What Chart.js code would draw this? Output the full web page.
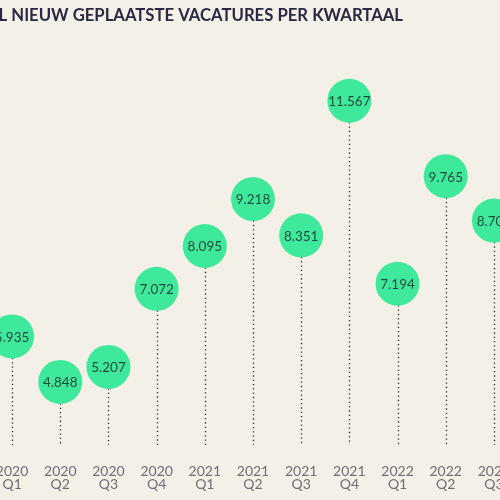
<!DOCTYPE html>
<html lang="nl">
<head>
<meta charset="utf-8">
<title>Nieuw geplaatste vacatures per kwartaal</title>
<script src="https://cdn.jsdelivr.net/npm/chart.js@4/dist/chart.umd.min.js"></script>
<style>
    html, body { margin: 0; padding: 0; width: 500px; height: 500px; overflow: hidden; background: #f3f0e7; }
    #wrap { position: absolute; left: -12px; top: 0; width: 530px; height: 500px; }
</style>
</head>
<body>
<div id="wrap"><canvas id="vacatureChart"></canvas></div>
<script>
// Quarters shown on the x axis (year on first line, quarter on second)
const years = ['2020', '2020', '2020', '2020', '2021', '2021', '2021', '2021', '2022', '2022', '2022'];
const quarters = ['Q1', 'Q2', 'Q3', 'Q4', 'Q1', 'Q2', 'Q3', 'Q4', 'Q1', 'Q2', 'Q3'];
// Number of new vacancies (in thousands, shown with Dutch thousand separator)
const vacancies = [5.935, 4.848, 5.207, 7.072, 8.095, 9.218, 8.351, 11.567, 7.194, 9.765, 8.704];
const chartTitle = 'AANTAL NIEUW GEPLAATSTE VACATURES PER KWARTAAL';

document.addEventListener('DOMContentLoaded', function () {
    const labels = years.map((y, i) => [y, quarters[i]]);

    // Dotted stems from each bubble down to the bottom of the chart area
    const stems = {
        id: 'stems',
        beforeDatasetsDraw(chart) {
            const ctx = chart.ctx;
            const bottom = chart.chartArea.bottom;
            ctx.save();
            ctx.strokeStyle = '#2b2b2b';
            ctx.lineWidth = 1.3;
            ctx.setLineDash([1.3, 3]);
            chart.getDatasetMeta(0).data.forEach(pt => {
                ctx.beginPath();
                ctx.moveTo(Math.round(pt.x) + 0.5, pt.y);
                ctx.lineTo(Math.round(pt.x) + 0.5, bottom);
                ctx.stroke();
            });
            ctx.restore();
        }
    };

    // Value text inside each bubble
    const bubbleLabels = {
        id: 'bubbleLabels',
        afterDatasetsDraw(chart) {
            const ctx = chart.ctx;
            ctx.save();
            ctx.fillStyle = '#1d4b3c';
            ctx.font = '13.5px Lato';
            ctx.textAlign = 'center';
            ctx.textBaseline = 'middle';
            chart.getDatasetMeta(0).data.forEach((pt, i) => {
                ctx.fillText(vacancies[i].toFixed(3), pt.x, pt.y + 1);
            });
            ctx.restore();
        }
    };

    // Title, cut off on the left like in the original crop
    const titleText = {
        id: 'titleText',
        afterDraw(chart) {
            const ctx = chart.ctx;
            ctx.save();
            ctx.fillStyle = '#2a2842';
            ctx.font = 'bold 16.7px Lato';
            ctx.textAlign = 'right';
            ctx.textBaseline = 'middle';
            ctx.fillText(chartTitle, 415, 16);
            ctx.restore();
        }
    };

    const ctx = document.getElementById('vacatureChart').getContext('2d');
    new Chart(ctx, {
        type: 'line',
        data: {
            labels: labels,
            datasets: [{
                label: 'Vacatures',
                data: vacancies,
                showLine: false,
                clip: false,
                pointRadius: 22,
                pointHoverRadius: 22,
                pointBackgroundColor: '#3fe99b',
                pointBorderWidth: 0,
                pointHoverBorderWidth: 0
            }]
        },
        options: {
            responsive: true,
            maintainAspectRatio: false,
            animation: false,
            layout: { autoPadding: false, padding: { top: 45, bottom: 8, left: 0, right: 0 } },
            plugins: {
                legend: { display: false },
                tooltip: { enabled: false },
                title: { display: false }
            },
            scales: {
                x: {
                    offset: true,
                    grid: { display: false, drawTicks: true, tickLength: 20 },
                    border: { display: false },
                    ticks: {
                        color: '#716d75',
                        font: { family: 'Lato', size: 14, lineHeight: 0.95 },
                        padding: 0,
                        maxRotation: 0,
                        autoSkip: false
                    },
                    afterFit(scale) {
                        scale.height = 47;
                    }
                },
                y: {
                    display: false,
                    min: 3.34,
                    max: 12.9
                }
            }
        },
        plugins: [stems, bubbleLabels, titleText]
    });
});
</script>
</body>
</html>
